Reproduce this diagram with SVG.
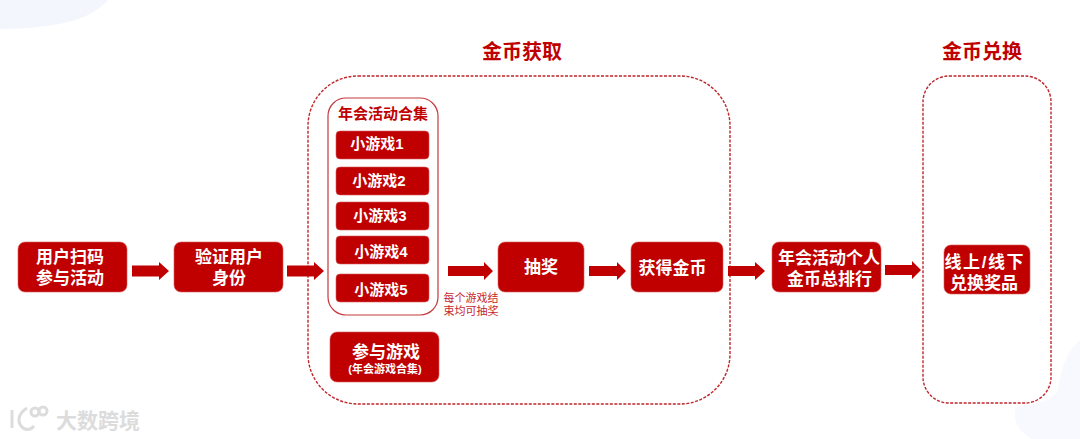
<svg xmlns="http://www.w3.org/2000/svg" width="1080" height="439" viewBox="0 0 1080 439">
<defs>
<style>
text{font-family:"Liberation Sans","Noto Sans CJK SC",sans-serif;text-anchor:middle}
.box{fill:#c00000;stroke:#d65a5a;stroke-width:.6}
.t{fill:#fff;font-weight:700;font-size:17px}
.m{fill:#fff;font-weight:700;font-size:15px}
.h{fill:#c00000;font-weight:700;font-size:20px}
.dash{fill:none;stroke:#c0262c;stroke-width:1.4;stroke-dasharray:3 1.5}
.bg{fill:#f3f7fd}
.arrow{fill:#c00000}
.wm{fill:none;stroke:#dcdcdc;stroke-width:3}
</style>
</defs>
<rect width="1080" height="439" fill="#fff"/>
<path class="bg" d="M0 0H108C95 14 75 28 0 29Z"/>
<path class="bg" d="M1080 340C1068 350 1062 365 1058 390C1050 405 1030 403 1016 407C1012 422 1020 432 1032 439H1080Z" opacity=".7"/>

<g id="regions">
<rect id="region-earn" class="dash" x="308" y="76" width="422" height="328" rx="50"/>
<rect id="region-redeem" class="dash" x="923" y="76" width="128" height="327" rx="26"/>
</g>
<text class="h" x="522" y="59">金币获取</text>
<text class="h" x="982" y="59">金币兑换</text>

<g id="connectors" class="arrow">
<path d="M132 265.500H159V262L169 271L159 280V276.500H132Z"/>
<path d="M287 265.500H314V262L324 271L314 280V276.500H287Z"/>
<path d="M448 266H484V262L493 271L484 280V276H448Z"/>
<path d="M589 266H617V262L626 271L617 280V276H589Z"/>
<path d="M728 266H755V262L765 271L755 280V276H728Z"/>
<path d="M885 265H912V261L921 270L912 279V275H885Z"/>
</g>

<g id="n-scan"><rect class="box" x="18" y="242" width="109" height="50" rx="7"/><text class="t" x="70" y="263">用户扫码</text><text class="t" x="70" y="284">参与活动</text></g>
<g id="n-verify"><rect class="box" x="174" y="242" width="109" height="50" rx="7"/><text class="t" x="229" y="263">验证用户</text><text class="t" x="229" y="284">身份</text></g>

<g id="n-collection">
<rect x="328" y="98" width="110" height="217" rx="18" fill="#fff" stroke="#c5383c" stroke-width="1.2"/>
<text x="383" y="119" fill="#c00000" font-weight="700" font-size="15">年会活动合集</text>
</g>
<g id="n-game1"><rect class="box" x="336" y="131" width="93" height="28" rx="4"/><text class="m" x="377" y="149">小游戏1</text></g>
<g id="n-game2"><rect class="box" x="336" y="167" width="93" height="28" rx="4"/><text class="m" x="379" y="186">小游戏2</text></g>
<g id="n-game3"><rect class="box" x="336" y="202" width="93" height="28" rx="4"/><text class="m" x="380" y="221">小游戏3</text></g>
<g id="n-game4"><rect class="box" x="336" y="236" width="93" height="28" rx="4"/><text class="m" x="381" y="257">小游戏4</text></g>
<g id="n-game5"><rect class="box" x="336" y="274" width="93" height="28" rx="4"/><text class="m" x="381" y="295">小游戏5</text></g>
<g id="n-join"><rect class="box" x="330" y="332" width="109" height="50" rx="7"/><text class="t" x="386" y="358">参与游戏</text><text x="385" y="373" fill="#fff" font-weight="700" font-size="11">(年会游戏合集)</text></g>

<g id="note"><text x="471" y="302" fill="#c5282c" font-size="11">每个游戏结</text><text x="471" y="315" fill="#c5282c" font-size="11">束均可抽奖</text></g>

<g id="n-draw"><rect class="box" x="498" y="242" width="86" height="50" rx="7"/><text class="t" x="541" y="273">抽奖</text></g>
<g id="n-coins"><rect class="box" x="631" y="242" width="92" height="50" rx="7"/><text class="t" x="672.500" y="274">获得金币</text></g>
<g id="n-rank"><rect class="box" x="772" y="242" width="109" height="50" rx="7"/><text class="t" x="829" y="264">年会活动个人</text><text class="t" x="829.500" y="285">金币总排行</text></g>
<g id="n-prize"><rect class="box" x="944" y="245" width="86" height="49" rx="7"/><text class="t" x="984" y="268" textLength="79">线上/线下</text><text class="t" x="984" y="289">兑换奖品</text></g>

<g id="watermark">
<path class="wm" d="M12 410V428"/>
<path class="wm" d="M27 408C19 413 17 420 21 426C25 431 31 430 34 426"/>
<circle class="wm" cx="35" cy="412" r="4" stroke-width="2"/>
<circle class="wm" cx="43" cy="411" r="4" stroke-width="2"/>
<text x="98" y="428" fill="#dcdcdc" font-weight="700" font-size="21">大数跨境</text>
</g>
</svg>
